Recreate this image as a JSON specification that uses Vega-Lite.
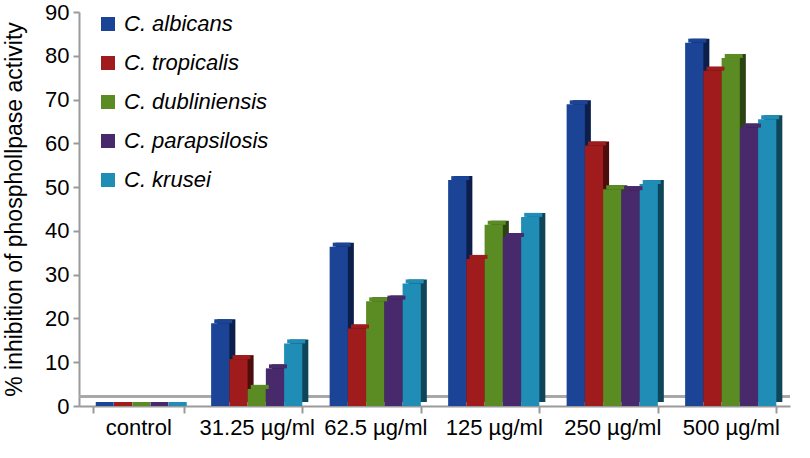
{
  "$schema": "https://vega.github.io/schema/vega-lite/v6.json",
  "width": 711,
  "height": 394,
  "autosize": {"type": "none"},
  "padding": {"left": 79, "top": 12, "right": 20, "bottom": 52},
  "background": "white",
  "config": {"view": {"stroke": null}, "font": "Liberation Sans"},
  "data": {
    "values": [
      {"dose": "control", "species": "C. albicans", "value": 0},
      {"dose": "control", "species": "C. tropicalis", "value": 0},
      {"dose": "control", "species": "C. dubliniensis", "value": 0},
      {"dose": "control", "species": "C. parapsilosis", "value": 0},
      {"dose": "control", "species": "C. krusei", "value": 0},
      {"dose": "31.25 µg/ml", "species": "C. albicans", "value": 18.9},
      {"dose": "31.25 µg/ml", "species": "C. tropicalis", "value": 10.7},
      {"dose": "31.25 µg/ml", "species": "C. dubliniensis", "value": 3.9},
      {"dose": "31.25 µg/ml", "species": "C. parapsilosis", "value": 8.6},
      {"dose": "31.25 µg/ml", "species": "C. krusei", "value": 14.3},
      {"dose": "62.5 µg/ml", "species": "C. albicans", "value": 36.4},
      {"dose": "62.5 µg/ml", "species": "C. tropicalis", "value": 17.7},
      {"dose": "62.5 µg/ml", "species": "C. dubliniensis", "value": 23.9},
      {"dose": "62.5 µg/ml", "species": "C. parapsilosis", "value": 24.3},
      {"dose": "62.5 µg/ml", "species": "C. krusei", "value": 28},
      {"dose": "125 µg/ml", "species": "C. albicans", "value": 51.6},
      {"dose": "125 µg/ml", "species": "C. tropicalis", "value": 33.6},
      {"dose": "125 µg/ml", "species": "C. dubliniensis", "value": 41.4},
      {"dose": "125 µg/ml", "species": "C. parapsilosis", "value": 38.6},
      {"dose": "125 µg/ml", "species": "C. krusei", "value": 43.2},
      {"dose": "250 µg/ml", "species": "C. albicans", "value": 68.9},
      {"dose": "250 µg/ml", "species": "C. tropicalis", "value": 59.5},
      {"dose": "250 µg/ml", "species": "C. dubliniensis", "value": 49.5},
      {"dose": "250 µg/ml", "species": "C. parapsilosis", "value": 49.3},
      {"dose": "250 µg/ml", "species": "C. krusei", "value": 50.7},
      {"dose": "500 µg/ml", "species": "C. albicans", "value": 83},
      {"dose": "500 µg/ml", "species": "C. tropicalis", "value": 76.6},
      {"dose": "500 µg/ml", "species": "C. dubliniensis", "value": 79.5},
      {"dose": "500 µg/ml", "species": "C. parapsilosis", "value": 63.6},
      {"dose": "500 µg/ml", "species": "C. krusei", "value": 65.5}
    ]
  },
  "resolve": {"scale": {"y": "independent", "xOffset": "independent", "color": "independent"}, "legend": {"color": "independent"}},
  "layer": [
    {
      "mark": {"type": "rule", "color": "#a8a8a8", "strokeWidth": 2},
      "encoding": {"y": {"datum": 2.2, "type": "quantitative", "scale": {"domain": [0, 90]}, "axis": null}}
    },
    {
      "mark": {"type": "bar", "opacity": 1},
      "encoding": {
        "x": {"field": "dose", "type": "nominal", "sort": null, "scale": {"paddingInner": 0.23, "paddingOuter": 0.115}},
        "xOffset": {"field": "species", "type": "nominal", "sort": null, "scale": {"range": [6, 97.2]}},
        "y": {"field": "value", "type": "quantitative", "scale": {"domain": [0, 90], "range": [390, -4]}, "axis": null},
        "color": {
          "field": "species", "type": "nominal", "sort": null, "legend": null,
          "scale": {
            "domain": ["C. albicans", "C. tropicalis", "C. dubliniensis", "C. parapsilosis", "C. krusei"],
            "range": ["#0c1e4a", "#4d0d0d", "#2c4411", "#221434", "#0e4558"]
          }
        }
      }
    },
    {
      "mark": {"type": "bar"},
      "encoding": {
        "x": {
          "field": "dose", "type": "nominal", "sort": null,
          "scale": {"paddingInner": 0.23, "paddingOuter": 0.115},
          "axis": {
            "title": null, "labelAngle": 0, "labelAlign": "center", "labelFontSize": 22, "labelColor": "black",
            "labelPadding": 14, "labelOverlap": false, "labelLimit": 0,
            "domainColor": "#9a9a9a", "domainWidth": 2,
            "tickColor": "#9a9a9a", "tickWidth": 2, "tickSize": 7, "tickBand": "extent"
          }
        },
        "xOffset": {"field": "species", "type": "nominal", "sort": null, "scale": {"range": [0, 91.2]}},
        "y": {
          "field": "value", "type": "quantitative",
          "scale": {"domain": [0, 90], "range": [394, 0]},
          "axis": {
            "title": "% inhibition of phosphollpase activity",
            "titleFontSize": 23, "titleFontWeight": "normal", "titleColor": "black", "titlePadding": 18,
            "values": [0, 10, 20, 30, 40, 50, 60, 70, 80, 90],
            "labelFontSize": 22, "labelColor": "black", "labelPadding": 4,
            "grid": false, "domainColor": "#9a9a9a", "domainWidth": 2,
            "tickColor": "#9a9a9a", "tickWidth": 2, "tickSize": 6
          }
        },
        "color": {
          "field": "species", "type": "nominal", "sort": null,
          "scale": {
            "domain": ["C. albicans", "C. tropicalis", "C. dubliniensis", "C. parapsilosis", "C. krusei"],
            "range": ["#1b4497", "#a01c1c", "#5b8c23", "#482a6c", "#1f8db5"]
          },
          "legend": {
            "orient": "none", "legendX": 18, "legendY": 1, "title": null,
            "symbolType": "square", "symbolSize": 196, "symbolStrokeWidth": 0, "symbolOpacity": 1,
            "labelFontSize": 22, "labelFontStyle": "italic", "labelColor": "black",
            "rowPadding": 17, "labelOffset": 5
          }
        }
      }
    },
    {
      "mark": {"type": "tick", "thickness": 4, "size": 18, "orient": "horizontal", "opacity": 1},
      "encoding": {
        "x": {"field": "dose", "type": "nominal", "sort": null},
        "xOffset": {"field": "species", "type": "nominal", "sort": null, "scale": {"range": [3, 94.2]}},
        "y": {"field": "value", "type": "quantitative", "scale": {"domain": [0, 90], "range": [392, -2]}, "axis": null},
        "color": {
          "field": "species", "type": "nominal", "sort": null, "legend": null,
          "scale": {
            "domain": ["C. albicans", "C. tropicalis", "C. dubliniensis", "C. parapsilosis", "C. krusei"],
            "range": ["#1b4497", "#a01c1c", "#5b8c23", "#482a6c", "#1f8db5"]
          }
        }
      }
    }
  ]
}
